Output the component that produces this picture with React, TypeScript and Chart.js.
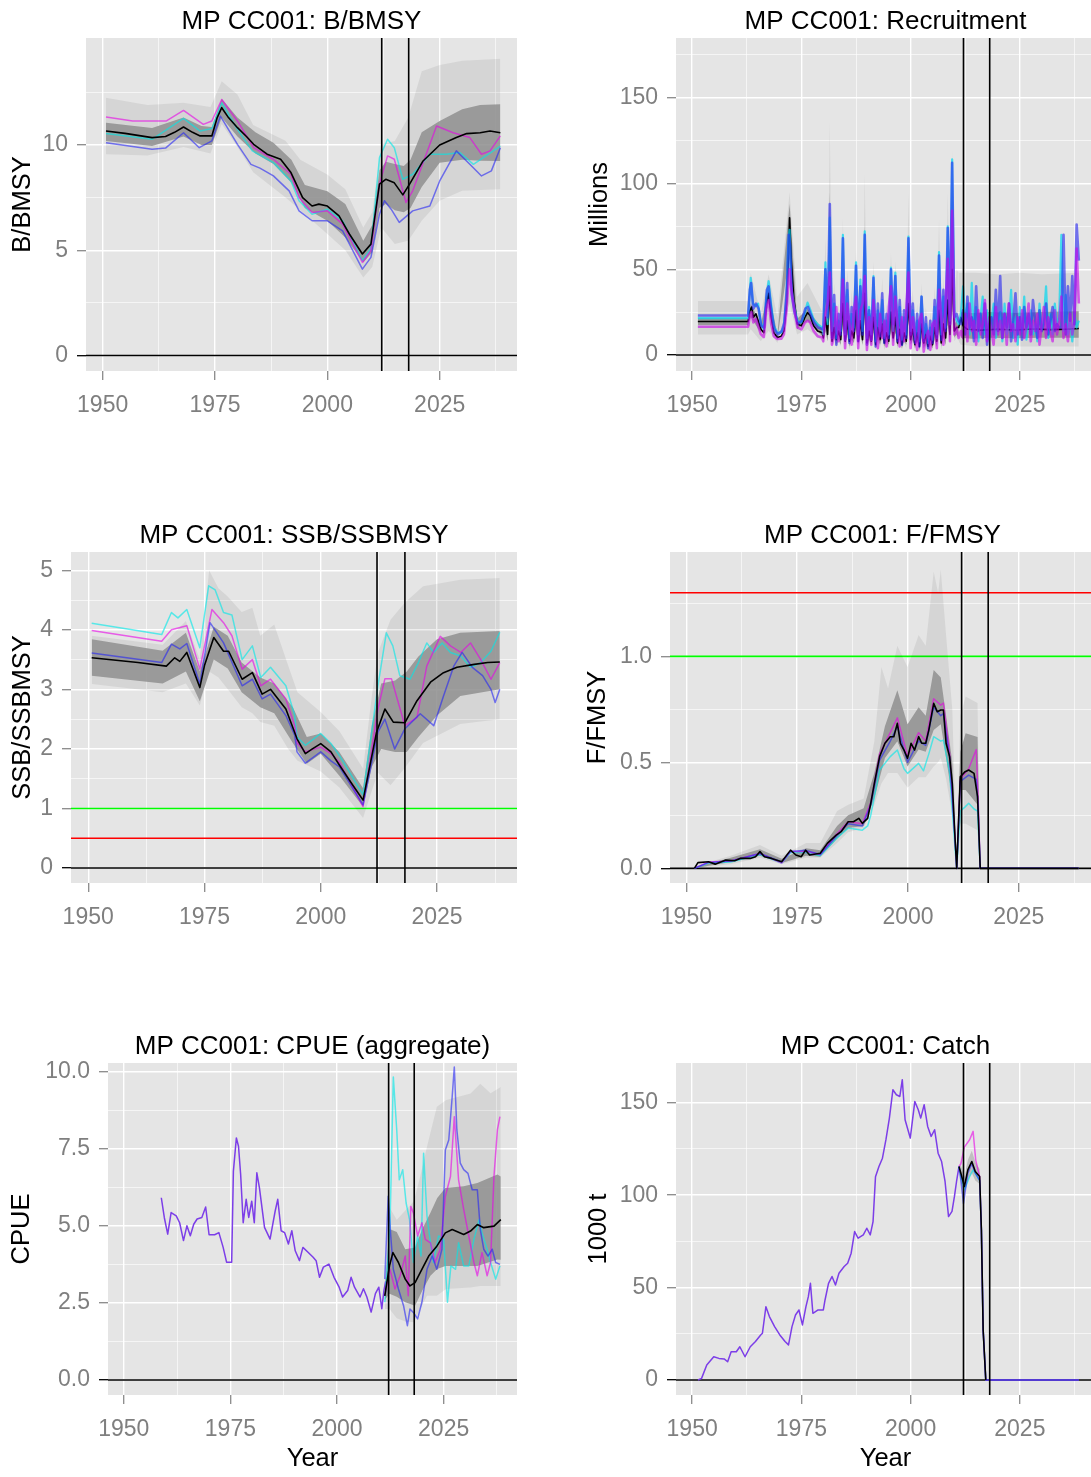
import React, { useEffect, useRef } from "react";
import { Chart, registerables } from "chart.js";

Chart.register(...registerables);

type Pt = [number, number];
type Band = [number, number, number]; // [year, low, high]

const FONT = "'Liberation Sans', Arial, Helvetica, sans-serif";

// ---------- shared year axis ----------
const yearMin = 1946.3;
const yearMax = 2042.2;
const yearMajor = [1950, 1975, 2000, 2025];
const yearMinor = [1962.5, 1987.5, 2012.5, 2037.5];
const projectionMarkers = [2012.1, 2018.1];

// ---------- B/BMSY ----------
const bMedian: Pt[] = [[1950.75,10.66],[1955,10.55],[1961,10.35],[1964,10.4],[1966,10.6],[1968,10.85],[1970,10.6],[1971.7,10.43],[1974.3,10.43],[1975.5,11.3],[1976.5,11.77],[1978,11.3],[1980,10.82],[1982,10.4],[1983.6,10.03],[1986.6,9.56],[1989.6,9.32],[1991.9,8.69],[1994.5,7.5],[1996.6,7.1],[1998.1,7.19],[2000,7.1],[2002.6,6.63],[2004.9,5.77],[2007.8,4.82],[2009.7,5.29],[2011.6,8.14],[2013,8.37],[2014.9,8.2],[2016.8,7.63],[2018.3,8.14],[2021.3,9.24],[2025,10.0],[2028.7,10.35],[2031,10.54],[2034,10.58],[2036.2,10.66],[2038.5,10.58]];
const bInner: Band[] = [[1950.75,10.19,11.06],[1961,9.95,10.8],[1968,10.4,11.3],[1972,10.0,10.9],[1974.3,10.0,10.85],[1976.5,11.3,12.2],[1980,10.4,11.3],[1984,9.6,10.6],[1988,9.1,10.1],[1992,8.2,9.3],[1995,7.0,8.1],[2000,6.4,7.8],[2004,5.6,7.2],[2008,4.42,5.45],[2010,4.9,6.2],[2011.6,7.0,8.8],[2013,7.2,9.2],[2015,6.9,9.1],[2017,6.8,9.0],[2018.5,7.0,9.3],[2021,8.0,10.6],[2025,9.16,11.14],[2030,9.3,11.7],[2034,9.25,11.9],[2038.5,9.24,11.93]];
const bOuter: Band[] = [[1950.75,9.56,12.24],[1960,9.5,11.9],[1968,9.9,12.0],[1974,9.6,11.8],[1976.5,11.0,13.03],[1980,9.9,12.4],[1983.5,8.7,10.95],[1990.7,7.5,10.2],[1994,6.9,9.3],[2000,5.77,8.6],[2004,5.0,7.9],[2008,3.71,6.08],[2010,4.2,6.8],[2012,6.08,10.03],[2015,5.29,10.19],[2018,5.45,11.3],[2021,6.4,13.5],[2025,7.35,13.8],[2030,7.82,14.0],[2038.5,7.9,14.1]];
const bBlue: Pt[] = [[1950.75,10.11],[1961,9.8],[1964,9.85],[1968,10.58],[1971.5,9.87],[1974.3,10.19],[1976.2,11.37],[1980,10.03],[1983,9.08],[1985,8.9],[1988,8.53],[1991.5,7.82],[1993.7,6.87],[1996.6,6.4],[2000,6.4],[2003.4,5.92],[2007.8,4.1],[2009.7,4.66],[2011.6,6.71],[2012.7,7.35],[2014.2,6.95],[2016,6.32],[2019,6.87],[2022.8,7.1],[2025,8.29],[2028.7,9.72],[2031.7,9.08],[2034.3,8.53],[2036.5,8.77],[2038.5,9.87]];
const bMagenta: Pt[] = [[1950.75,11.33],[1956.7,11.14],[1964.2,11.14],[1968,11.64],[1972.4,10.98],[1974.3,11.14],[1976.5,12.16],[1980,11.14],[1983.6,9.87],[1988,9.32],[1991.9,8.61],[1993.7,7.5],[1996.6,6.79],[2000,6.87],[2003.4,6.24],[2007.8,4.42],[2009.7,4.98],[2011.6,8.14],[2013.4,9.48],[2014.9,9.32],[2017.5,7.27],[2019,7.82],[2022,9.56],[2024.3,10.9],[2028,10.58],[2031.7,10.35],[2034.3,9.56],[2036.2,9.72],[2038.5,10.43]];
const bCyan: Pt[] = [[1950.75,10.54],[1961,10.27],[1968,11.26],[1971.7,10.66],[1974.3,10.78],[1976.5,12.0],[1980,10.74],[1983.3,9.72],[1988,9.16],[1991.9,8.29],[1993.7,7.35],[1996.6,6.71],[2000,6.95],[2003.4,6.4],[2007.8,4.5],[2009.7,5.1],[2011.6,9.4],[2013.4,10.27],[2014.9,9.87],[2016.8,8.37],[2019,8.61],[2022.8,9.56],[2026.5,9.56],[2029.5,9.64],[2032.5,9.08],[2034.7,9.4],[2038.5,9.95]];

// ---------- Recruitment (millions) ----------
const recBlueEarly: Pt[] = [[1951.3,23],[1962.8,23],[1963.2,38],[1963.5,42],[1964,27],[1964.6,30],[1965.2,27],[1965.8,17],[1966.5,16],[1967.1,38],[1967.5,40],[1968.2,24],[1968.8,15],[1969.6,12],[1970.5,14],[1971.1,19],[1971.7,40],[1972.1,70],[1972.4,64],[1972.8,35],[1973.4,25],[1974.2,18],[1975.1,20],[1975.9,27],[1976.5,28],[1977.1,24],[1977.9,19],[1978.8,16],[1979.9,15]];
const recCyanEarly: Pt[] = [[1951.3,21.5],[1962.8,21.5],[1963.1,34],[1963.4,45],[1963.9,30],[1964.5,28.5],[1965.1,30],[1965.7,19],[1966.4,15],[1967,34],[1967.5,43],[1968.1,29],[1968.7,17],[1969.5,13],[1970.4,13],[1971,17],[1971.6,34],[1972,66],[1972.3,73],[1972.7,40],[1973.3,28.5],[1974.1,20],[1975,19],[1975.8,24.7],[1976.4,30.5],[1977,26.6],[1977.8,20.8],[1978.7,18],[1979.8,16]];
const recMagentaEarly: Pt[] = [[1951.3,16.5],[1962.8,16.5],[1963.2,22.8],[1963.6,25],[1964,19],[1964.6,21],[1965.7,12.2],[1966.4,10.5],[1967,27],[1967.5,32],[1968.1,18],[1968.7,11],[1969.5,9.3],[1970.4,9.5],[1971,12],[1971.6,26],[1972.1,45],[1972.3,50],[1972.7,38],[1973.3,28],[1974.1,16],[1975,15],[1975.8,18.9],[1976.4,20],[1977,19],[1977.8,14],[1978.7,11],[1979.8,10.2]];
const recBlackEarly: Pt[] = [[1951.3,19.5],[1962.8,19.5],[1963.2,25.7],[1963.6,28],[1964,22],[1964.6,24],[1965.7,15.2],[1966.4,13],[1967,30],[1967.5,36],[1968.1,22],[1968.7,13],[1969.5,10.2],[1970.4,11],[1971,14],[1971.6,30],[1972.1,62],[1972.3,80],[1972.7,55],[1973.3,32],[1974.1,18],[1975,17],[1975.8,22],[1976.4,24.7],[1977,23],[1977.8,17],[1978.7,14],[1979.8,13]];
// half-yearly estimates 1980.0 - 2011.0
const recMidStart = 1980;
const recBlueMid = [15,50,22,88,10,35,6,24,12,68, 9,42,7,28,14,52,8,40,12,70, 6,26,9,45,5,30,11,36,7,24, 10,50,18,46,8,32,6,26,10,68, 12,30,7,24,5,34,8,22,4,20, 7,32,10,58,9,38,14,74,18,112, 22,24,20];
const recMagentaMid = [8,24,30,48,6,12,28,8,20,44, 4,30,18,6,26,34,4,26,30,46, 3,22,6,32,16,4,24,10,20,5, 28,40,6,34,18,5,22,8,26,48, 4,22,12,3,20,24,2,10,14,3, 18,20,4,38,22,6,30,56,8,84, 12,16,10];
const recCyanMid = [12,54,18,80,14,30,10,20,14,70, 12,38,10,24,16,54,12,44,14,72, 10,28,12,46,8,26,14,32,10,20, 12,51,14,48,10,28,9,22,12,69, 14,26,9,20,8,34,10,18,7,16, 9,28,12,60,12,34,16,75,20,114, 24,20,18];
const recBlackMid = [10,22,12,40,8,16,9,14,9,30, 8,20,8,14,10,26,8,20,9,36, 7,14,8,22,6,16,9,18,7,13, 8,25,10,22,7,15,6,13,8,30, 9,15,6,13,5,18,7,12,5,11, 6,16,8,26,7,18,10,32,12,50, 14,16,16];
const recInnerHiMid = [12,36,16,95,9,24,10,18,11,50, 10,30,9,20,12,42,10,32,11,75, 9,20,10,34,8,22,11,28,9,18, 10,40,14,36,9,22,8,18,10,68, 11,22,8,18,6,28,9,16,6,14, 8,24,10,45,9,28,12,60,15,103, 18,20,16];
const recInnerLoMid = [7,14,8,25,6,10,6,9,6,18, 6,12,5,9,7,15,6,12,6,22, 5,9,6,13,4,9,6,11,5,8, 6,14,7,13,5,9,4,8,6,20, 6,9,4,8,3,10,4,7,3,6, 4,9,5,15,5,10,6,18,8,30, 10,12,10];
const recOuterHiMid = [22,68,28,137,18,42,15,30,18,80, 16,50,14,38,20,62,16,50,18,106, 14,34,16,55,12,36,18,45,14,30, 16,60,24,55,14,40,12,33,16,95, 18,38,12,30,10,42,14,28,10,25, 12,40,16,80,14,46,20,95,25,120, 30,50,48];
const recOuterLoMid = [6,18,8,40,4,10,4,8,5,25, 4,12,3,8,5,18,4,12,5,35, 3,8,4,14,3,8,4,10,3,7, 4,15,6,14,3,8,3,7,4,28, 5,8,3,7,2,10,3,6,2,5, 3,9,4,18,3,10,5,24,6,40, 8,10,8];
// half-yearly projections 2011.5 - 2038.5
const recProjStart = 2011.5;
const recCyanProj = [24,40,18,30,12,42,10,28,8,22, 34,12,26,9,20,30,10,16,25,8, 30,12,18,38,10,22,6,28,14,34, 9,20,26,12,18,8,30,15,22,40, 10,24,12,30,18,22,70,14,35,12, 20,8,24,16,20];
const recMagentaProj = [14,10,24,8,30,14,20,6,26,12, 18,32,8,22,14,6,28,12,20,10, 24,6,30,14,18,8,22,12,26,10, 16,30,8,20,14,24,6,18,28,10, 22,14,8,26,12,20,34,10,18,8, 24,12,20,62,30];
const recBlueProj = [18,26,12,34,16,22,8,40,14,24, 10,30,6,18,22,12,38,14,46,10, 24,16,30,8,20,36,12,22,9,28, 16,24,12,32,20,10,26,14,18,30, 12,20,28,14,18,16,16,70,12,40, 20,46,18,76,55];
const recBlackProj: Pt[] = [[2011.0,16],[2011.5,22],[2012,17],[2013,15],[2016,14.5],[2020,15],[2024,14.6],[2028,15.2],[2032,14.8],[2036,15.1],[2038.5,15.5]];
const recOuterEarly: Band[] = [[1951.3,12,31.5],[1962.8,12,31.5],[1963.4,15,48],[1965.7,8,24],[1967.5,14,47],[1969.5,7,22],[1972.3,30,95],[1974,12,34],[1976.4,15,42],[1979.8,8,25]];
const recOuterProj: Band[] = [[2011.0,8,48],[2011.5,6,48],[2015,5,48],[2020,5,47],[2025,5,48],[2030,5,47],[2038.5,5,48]];
const recInnerEarly: Band[] = [[1951.3,17.5,21.5],[1962.8,17.5,21.5],[1963.4,22,30],[1965.7,13,18],[1967.5,30,38],[1969.5,9,12],[1972.3,60,88],[1974,15,21],[1976.4,20,27],[1979.8,11,15]];
const recInnerProj: Band[] = [[2011.5,10,25],[2014,9.5,24.5],[2018,10,25],[2024,9.8,24.6],[2030,10,25],[2038.5,10,25.5]];

// ---------- SSB/SSBMSY ----------
const ssbMedian: Pt[] = [[1950.75,3.53],[1960.7,3.45],[1966.8,3.39],[1968.6,3.53],[1969.7,3.47],[1971.2,3.62],[1974,3.03],[1975,3.4],[1977,3.87],[1979.1,3.64],[1980.2,3.64],[1983.1,3.17],[1985.3,3.28],[1987.4,2.92],[1989.2,3.0],[1992.5,2.67],[1994.9,2.17],[1996.7,1.92],[1998.2,2.0],[2000,2.09],[2002.2,1.95],[2004,1.73],[2006.9,1.39],[2009.1,1.14],[2012,2.28],[2013.8,2.67],[2015.6,2.45],[2018.1,2.44],[2020.7,2.81],[2023.6,3.12],[2026.4,3.28],[2029.3,3.37],[2033,3.42],[2035.9,3.45],[2038.5,3.46]];
const ssbInner: Band[] = [[1950.75,3.23,3.84],[1966,3.1,3.65],[1971,3.3,3.95],[1974,2.8,3.3],[1977,3.5,4.05],[1980,3.35,3.9],[1983,2.95,3.45],[1987,2.7,3.2],[1990,2.6,3.1],[1994,2.1,2.7],[1997,1.75,2.2],[2000,1.92,2.26],[2004,1.55,1.95],[2009.1,1.03,1.34],[2011,1.7,2.4],[2013,2.0,3.1],[2016,1.95,3.15],[2018.5,1.95,3.3],[2021,2.2,3.55],[2025,2.56,3.84],[2030,2.89,3.95],[2038.5,3.0,3.98]];
const ssbOuter: Band[] = [[1950.75,3.09,3.9],[1966,2.95,3.75],[1971,3.1,4.15],[1974,2.73,3.5],[1976,3.3,5.0],[1978,3.2,4.7],[1980,3.0,4.56],[1983,2.7,4.3],[1985.3,2.6,4.37],[1987,2.45,3.9],[1990,2.39,4.09],[1993,2.0,3.4],[1995,1.8,2.95],[2000,1.62,2.62],[2004,1.35,2.3],[2009.1,0.84,1.67],[2011,1.3,2.9],[2012.3,1.6,3.62],[2015,1.39,4.17],[2018,1.67,4.45],[2022,2.1,4.73],[2030,2.42,4.84],[2038.5,2.5,4.87]];
const ssbCyan: Pt[] = [[1950.75,4.11],[1965.8,3.92],[1967.9,4.29],[1969.3,4.2],[1971.2,4.34],[1974,3.7],[1975.9,4.74],[1977.3,4.67],[1979.1,4.29],[1980.9,4.25],[1983.1,3.5],[1985.3,3.73],[1987.1,3.2],[1989.2,3.37],[1992.5,3.06],[1994.4,2.56],[1994.9,2.2],[1996.7,2.06],[1998.5,2.17],[2000,2.26],[2002.2,2.09],[2004,1.89],[2009.1,1.23],[2012.3,3.06],[2014.1,3.95],[2015.5,3.73],[2017,3.23],[2019.2,3.17],[2021,3.45],[2022.8,3.78],[2024.3,3.62],[2026.1,3.78],[2027.9,3.62],[2030.1,3.56],[2032.2,3.37],[2034.4,3.45],[2036.6,3.64],[2038.5,3.96]];
const ssbMagenta: Pt[] = [[1950.75,3.99],[1965.8,3.81],[1967.9,4.0],[1971.2,4.07],[1974,3.34],[1976.6,4.34],[1979.1,4.12],[1980.9,3.9],[1983.1,3.34],[1985.3,3.5],[1987.1,3.06],[1989.2,3.17],[1992.5,2.84],[1994.4,2.39],[1994.9,2.1],[1996.7,1.95],[2000,2.03],[2002.2,1.92],[2004,1.78],[2009.1,1.03],[2012.3,2.67],[2013.8,3.18],[2015.2,3.18],[2018.1,2.39],[2020.7,2.53],[2022.8,3.39],[2025.7,3.89],[2027.9,3.73],[2030.1,3.62],[2032.2,3.78],[2034.4,3.5],[2036.6,3.17],[2038.5,3.45]];
const ssbBlue: Pt[] = [[1950.75,3.61],[1965.8,3.45],[1967.9,3.76],[1969.7,3.68],[1971.2,3.77],[1974,3.09],[1976.2,4.12],[1979.1,3.78],[1983.1,3.06],[1985.3,3.17],[1987.4,2.84],[1989.2,2.92],[1992.5,2.56],[1994.4,2.23],[1994.9,1.95],[1996.7,1.76],[2000,1.95],[2002.2,1.8],[2004,1.7],[2009.1,1.06],[2012.3,2.28],[2013.8,2.5],[2015.9,2.0],[2018.1,2.34],[2021.4,2.59],[2024.3,2.39],[2026.4,2.89],[2028.6,3.39],[2030.4,3.62],[2032.6,3.37],[2034.8,3.23],[2036.6,3.0],[2037.5,2.78],[2038.5,3.0]];

// ---------- F/FMSY ----------
const fMedian: Pt[] = [[1951.8,0],[1952.6,0.027],[1955,0.031],[1956.5,0.02],[1958.9,0.039],[1960.9,0.036],[1962.1,0.047],[1964.4,0.047],[1965.6,0.055],[1966.6,0.079],[1967.6,0.055],[1969.2,0.047],[1971.5,0.031],[1973.5,0.086],[1974.7,0.063],[1975.9,0.055],[1976.9,0.086],[1977.8,0.063],[1980.2,0.071],[1981.8,0.118],[1983.8,0.157],[1984.9,0.173],[1986.5,0.22],[1987.7,0.22],[1988.9,0.236],[1989.7,0.212],[1990.9,0.236],[1991.6,0.307],[1992.4,0.4],[1993.6,0.527],[1994.8,0.59],[1996,0.621],[1996.8,0.621],[1997.6,0.684],[1998.3,0.59],[1999.1,0.558],[1999.9,0.519],[2000.7,0.59],[2001.5,0.558],[2002.4,0.621],[2003.1,0.59],[2004,0.59],[2004.7,0.652],[2005.8,0.778],[2006.6,0.739],[2007.4,0.747],[2008,0.747],[2008.6,0.59],[2009.4,0.527],[2010,0.4],[2010.6,0.149],[2011,0],[2011.8,0.432],[2012.9,0.456],[2013.7,0.464],[2014.9,0.448],[2015.7,0.338],[2016.3,0],[2038.5,0]];
const fMagenta: Pt[] = [[1951.8,0],[1955,0.03],[1960,0.035],[1966.6,0.07],[1971.5,0.025],[1973.5,0.08],[1977,0.08],[1980.2,0.065],[1983.8,0.16],[1986.5,0.22],[1989.7,0.21],[1991.6,0.31],[1993.6,0.54],[1996,0.64],[1997.6,0.71],[1999.9,0.53],[2002.4,0.64],[2004,0.6],[2005.8,0.8],[2007.4,0.77],[2008,0.78],[2009.4,0.54],[2010.6,0.15],[2011,0],[2011.8,0.42],[2013.7,0.47],[2015.4,0.56],[2015.8,0.35],[2016.3,0],[2038.5,0]];
const fBlue: Pt[] = [[1951.8,0],[1955,0.028],[1960,0.035],[1966.6,0.07],[1971.5,0.03],[1973.5,0.08],[1977,0.085],[1980.2,0.065],[1983.8,0.15],[1986.5,0.21],[1989.7,0.2],[1991.6,0.3],[1993.6,0.51],[1996,0.6],[1997.6,0.67],[1999.9,0.5],[2002.4,0.6],[2004,0.58],[2005.8,0.76],[2007.4,0.72],[2008,0.73],[2009.4,0.52],[2010.6,0.14],[2011,0],[2011.8,0.41],[2013.7,0.44],[2015.4,0.42],[2015.8,0.3],[2016.3,0],[2038.5,0]];
const fCyan: Pt[] = [[1951.8,0],[1955,0.025],[1960,0.03],[1966.6,0.065],[1971.5,0.025],[1973.5,0.075],[1977,0.075],[1980.2,0.06],[1983.8,0.14],[1986.5,0.19],[1989.7,0.18],[1990.9,0.2],[1991.6,0.25],[1993.6,0.464],[1996,0.527],[1997.6,0.558],[1999.1,0.47],[1999.9,0.448],[2002.4,0.495],[2003.5,0.46],[2004.7,0.54],[2005.8,0.621],[2007.4,0.6],[2008,0.605],[2009.4,0.45],[2010.6,0.1],[2011,0],[2011.8,0.27],[2012.9,0.29],[2013.7,0.307],[2014.9,0.28],[2015.7,0.27],[2016.3,0],[2038.5,0]];
const fInner: Band[] = [[1951.8,0,0.005],[1960,0.03,0.05],[1966.6,0.06,0.09],[1971.5,0.025,0.045],[1977,0.06,0.095],[1980.2,0.055,0.085],[1984,0.14,0.2],[1986.5,0.19,0.25],[1990,0.2,0.283],[1992.4,0.33,0.45],[1994.8,0.52,0.67],[1997.6,0.6,0.84],[1999.9,0.48,0.68],[2002.4,0.56,0.76],[2004,0.55,0.72],[2005.8,0.652,0.936],[2007.4,0.68,0.9],[2008.6,0.52,0.72],[2010,0.33,0.5],[2011,0,0.02],[2011.8,0.37,0.55],[2013,0.37,0.637],[2015.7,0.3,0.62],[2016.3,0,0]];
const fOuter: Band[] = [[1951.8,0,0.01],[1960,0.02,0.06],[1966.6,0.05,0.11],[1971.5,0.02,0.06],[1977,0.05,0.12],[1980.2,0.05,0.12],[1984,0.12,0.27],[1986.5,0.17,0.3],[1990,0.19,0.33],[1992.4,0.3,0.6],[1994,0.4,0.95],[1995.5,0.45,0.85],[1997.6,0.45,1.05],[1999.9,0.38,0.95],[2002.4,0.43,1.1],[2004,0.43,1.05],[2005.8,0.48,1.4],[2006.8,0.5,1.3],[2007.4,0.52,1.41],[2008.6,0.42,1.1],[2010,0.25,0.75],[2011,0,0.05],[2011.8,0.21,0.72],[2013,0.21,0.81],[2015.7,0.18,0.78],[2016.3,0,0]];

// ---------- CPUE (aggregate) ----------
const cpueObserved: Pt[] = [[1958.8,5.91],[1959.5,5.27],[1960.3,4.73],[1961.1,5.43],[1962.3,5.32],[1963.1,5.1],[1964,4.52],[1964.8,5.0],[1965.6,4.68],[1966.4,5.05],[1967.2,5.22],[1968.3,5.27],[1969.2,5.61],[1970,4.71],[1971.3,4.71],[1972.3,4.78],[1973.3,4.3],[1974.1,3.82],[1975.3,3.82],[1975.7,6.77],[1976.4,7.85],[1976.9,7.58],[1977.4,6.67],[1978,5.1],[1978.7,5.86],[1979.3,5.27],[1980,5.8],[1980.6,5.1],[1981.2,6.72],[1981.8,6.24],[1983,4.95],[1984.3,4.57],[1985.5,5.48],[1986.1,5.86],[1986.9,4.84],[1987.7,4.78],[1988.6,4.41],[1989.4,4.84],[1990.2,4.19],[1991.2,3.87],[1992,4.3],[1993.2,4.14],[1994.4,3.98],[1995.1,3.87],[1995.9,3.33],[1996.8,3.66],[1998.1,3.76],[1999.3,3.33],[2000.5,3.01],[2001.3,2.69],[2002.5,2.9],[2003.3,3.33],[2004.1,3.01],[2005.4,2.69],[2006.2,2.96],[2007,2.69],[2008,2.2],[2009,2.8],[2009.8,3.01],[2010.5,2.31],[2011,2.9],[2011.4,3.2]];
const cpueMedian: Pt[] = [[2011.2,2.73],[2012.3,3.7],[2013.1,4.13],[2014.4,3.81],[2016,3.27],[2017.1,3.05],[2018.3,3.16],[2019.5,3.48],[2021.5,4.02],[2023.4,4.34],[2025.4,4.77],[2027,4.88],[2029.7,4.72],[2031.3,4.83],[2032.9,5.04],[2034.4,4.94],[2036.8,4.99],[2038.4,5.2]];
const cpueInner: Band[] = [[2011.2,2.6,2.9],[2012.3,2.8,4.9],[2014,2.7,4.8],[2016,2.52,4.24],[2018.3,2.41,4.3],[2020,2.9,4.9],[2021.9,3.38,5.42],[2023.5,3.6,5.9],[2025.4,3.7,6.23],[2029.7,3.7,6.28],[2032.9,3.7,6.39],[2037.6,3.91,6.66],[2038.4,3.9,6.6]];
const cpueOuter: Band[] = [[2011.2,2.3,3.2],[2012.3,2.3,5.6],[2014,2.0,5.2],[2016,1.9,5.5],[2018,1.87,5.8],[2019.5,2.3,6.6],[2021.1,2.73,7.57],[2023.4,2.73,8.86],[2025.6,2.95,9.08],[2031.3,3.0,9.29],[2033.6,3.05,9.61],[2036,3.05,9.3],[2038.4,3.05,9.5]];
const cpueCyan: Pt[] = [[2011.2,2.52],[2012.4,4.88],[2013.2,9.83],[2014,8.11],[2014.6,6.49],[2015.4,6.82],[2016.2,5.74],[2017,5.2],[2017.9,3.81],[2018.9,4.67],[2019.7,4.02],[2020.3,7.35],[2021.1,5.31],[2021.7,4.67],[2022.6,3.81],[2023.8,4.67],[2025,4.56],[2025.9,2.52],[2026.7,3.7],[2027.8,3.59],[2028.5,4.45],[2029.7,3.7],[2030.9,3.7],[2032.1,4.56],[2033.3,5.2],[2034,4.77],[2035.2,4.24],[2036,3.81],[2037.2,3.27],[2038.2,3.7]];
const cpueBlue: Pt[] = [[2011.2,3.27],[2012,5.96],[2012.6,4.67],[2013.2,3.59],[2014.4,2.95],[2015.6,2.41],[2016.5,1.76],[2017.1,2.3],[2017.9,2.19],[2018.9,1.98],[2019.9,2.52],[2021.1,3.59],[2022.3,4.02],[2023.4,3.59],[2024.6,4.24],[2025.4,7.46],[2026.2,7.78],[2027,9.18],[2027.5,10.15],[2028.1,8.11],[2028.9,7.03],[2029.7,6.82],[2030.7,6.7],[2031.7,6.17],[2032.9,6.17],[2033.6,4.88],[2034.4,4.24],[2035.4,4.02],[2036.4,4.24],[2037.2,3.81],[2038.2,3.75]];
const cpueMagenta: Pt[] = [[2011.2,2.73],[2012.4,3.59],[2013.6,2.95],[2014.8,3.38],[2016,4.02],[2016.7,2.73],[2017.3,5.63],[2017.9,5.42],[2018.9,4.67],[2019.9,5.1],[2020.7,4.56],[2021.9,4.45],[2023,3.81],[2024.2,4.24],[2025.4,5.96],[2026.6,6.6],[2027.5,8.54],[2028.5,6.49],[2029.7,5.53],[2030.9,4.67],[2032.1,3.81],[2032.9,3.38],[2034,4.13],[2035.2,3.38],[2036,3.81],[2036.8,6.6],[2037.6,8.11],[2038.2,8.54]];

// ---------- Catch (1000 t) ----------
const catchObserved: Pt[] = [[1951.35,0],[1952.15,0.9],[1953.34,8.1],[1954.94,12.6],[1956.13,11.7],[1957.32,11.4],[1958.12,9.9],[1958.92,15.3],[1960.11,15.3],[1960.91,18],[1962.1,12.6],[1963.3,18],[1964.49,20.8],[1965.68,24.4],[1966.08,25.3],[1966.88,39.7],[1967.68,34.3],[1968.87,28.9],[1970.06,24.4],[1971.26,20.8],[1972.05,19],[1972.85,28.9],[1973.65,35.2],[1974.44,37.9],[1975.24,29.8],[1976.04,39.7],[1976.59,45.1],[1977.07,52.3],[1977.63,36.1],[1978.82,37.9],[1980.02,37.9],[1980.41,43.3],[1981.21,52.3],[1982.01,56],[1982.8,51.4],[1983.6,57.8],[1984.79,61.4],[1985.59,63.2],[1986.39,68.6],[1987.18,80.3],[1987.98,76.7],[1989.17,78.5],[1989.97,82.1],[1990.76,78.5],[1991.4,85.7],[1991.96,110],[1992.75,115.5],[1993.55,120],[1994.35,130],[1995.14,141.7],[1995.94,157],[1996.74,154.3],[1997.53,153.4],[1998.09,162.5],[1998.73,140.8],[1999.92,130.9],[2000.96,150.7],[2001.75,146.2],[2002.31,141.7],[2003.1,148.9],[2003.9,137.2],[2004.7,131.8],[2005.49,135.4],[2006.29,122.7],[2007.09,118.2],[2007.88,107.4],[2008.68,88.4],[2009.47,91.2],[2010.03,99.3],[2010.51,107.4],[2011.07,115.5]];
const catchMedian: Pt[] = [[2011.07,115.5],[2011.5,111.9],[2012.3,104.7],[2013.1,113.7],[2014,118.2],[2014.8,112.8],[2015.8,110.1],[2016.2,81.2],[2016.6,27.1],[2017.2,0]];
const catchInner: Band[] = [[2011.07,115.5,115.5],[2011.5,107,116],[2012.3,100,110],[2013.1,108,119],[2014,112,124],[2014.8,108,118],[2015.8,106,114],[2016.2,80,83]];
const catchMagenta: Pt[] = [[2011.07,115.5],[2011.5,117],[2012.3,126],[2013.5,130],[2014.3,134.5],[2014.9,119],[2015.8,110],[2016.2,81.2],[2016.6,27.1],[2017.2,0],[2038.5,0]];
const catchCyan: Pt[] = [[2011.07,115.5],[2011.5,110],[2012.3,102.8],[2013.5,110],[2014.3,113.7],[2015,111],[2015.8,108],[2016.2,81.2],[2016.6,27.1],[2017.2,0],[2038.5,0]];
const catchBlue: Pt[] = [[2011.07,115.5],[2011.5,108],[2012.1,95.6],[2013.1,112],[2014,117],[2014.8,112],[2015.8,108],[2016.2,81.2],[2016.6,27.1],[2017.2,0],[2038.5,0]];

// ---------- colours ----------
const C_OUTER = "rgba(0,0,0,0.065)";
const C_INNER = "rgba(140,140,140,0.82)";
const C_CYAN = "rgba(0,232,232,0.62)";
const C_MAGENTA = "rgba(232,0,232,0.6)";
const C_BLUE = "rgba(36,36,245,0.6)";
const C_PURPLE = "rgb(124,62,232)";
const C_BLACK = "#000000";

const halfYearly = (start: number, values: number[]): Pt[] =>
  values.map((v, i) => [start + i * 0.5, v] as Pt);
const halfYearlyBand = (start: number, lo: number[], hi: number[]): Band[] =>
  lo.map((v, i) => [start + i * 0.5, v, hi[i]] as Band);

interface LineSpec { pts: Pt[]; color: string; width: number; order: number }
interface BandSpec { pts: Band[]; color: string; order: number }
interface RefLine { value: number; color: string }
interface PanelSpec {
  id: string;
  title: string;
  yTitle: string;
  xTitle: string;
  box: { x: number; y: number; w: number; h: number };
  area: { l: number; t: number; b: number };
  yTitleX: number;
  yMin: number;
  yMax: number;
  yMajor: number[];
  yMinor: number[];
  yDigits: number;
  bands: BandSpec[];
  lines: LineSpec[];
  hlines: RefLine[];
}

const simLines = (cyan: Pt[], magenta: Pt[], blue: Pt[], median: Pt[]): LineSpec[] => [
  { pts: cyan, color: C_CYAN, width: 1.5, order: 4 },
  { pts: magenta, color: C_MAGENTA, width: 1.5, order: 3 },
  { pts: blue, color: C_BLUE, width: 1.5, order: 2 },
  { pts: median, color: C_BLACK, width: 1.6, order: 1 },
];

const zeroLine: RefLine = { value: 0, color: "#000000" };

const panels: PanelSpec[] = [
  {
    id: "bbmsy", title: "MP CC001: B/BMSY", yTitle: "B/BMSY", xTitle: "",
    box: { x: 0, y: 0, w: 517, h: 430 }, area: { l: 86, t: 38, b: 371 }, yTitleX: 22.6,
    yMin: -0.736, yMax: 15.08, yMajor: [0, 5, 10], yMinor: [2.5, 7.5, 12.5], yDigits: 0,
    bands: [{ pts: bOuter, color: C_OUTER, order: 8 }, { pts: bInner, color: C_INNER, order: 6 }],
    lines: simLines(bCyan, bMagenta, bBlue, bMedian),
    hlines: [zeroLine],
  },
  {
    id: "rec", title: "MP CC001: Recruitment", yTitle: "Millions", xTitle: "",
    box: { x: 580, y: 0, w: 515, h: 430 }, area: { l: 676, t: 38, b: 371 }, yTitleX: 600,
    yMin: -9.3, yMax: 184.7, yMajor: [0, 50, 100, 150], yMinor: [25, 75, 125, 175], yDigits: 0,
    bands: [
      { pts: recOuterEarly, color: C_OUTER, order: 10 },
      { pts: halfYearlyBand(recMidStart, recOuterLoMid, recOuterHiMid), color: C_OUTER, order: 10 },
      { pts: recOuterProj, color: C_OUTER, order: 10 },
      { pts: recInnerEarly, color: C_INNER, order: 8 },
      { pts: halfYearlyBand(recMidStart, recInnerLoMid, recInnerHiMid), color: C_INNER, order: 8 },
      { pts: recInnerProj, color: C_INNER, order: 8 },
    ],
    lines: [
      { pts: [...recBlackEarly, ...halfYearly(recMidStart, recBlackMid), ...recBlackProj], color: C_BLACK, width: 1.6, order: 5 },
      { pts: [...recCyanEarly, ...halfYearly(recMidStart, recCyanMid), ...halfYearly(recProjStart, recCyanProj)], color: "rgba(0,215,240,0.7)", width: 2.2, order: 4 },
      { pts: [...recBlueEarly, ...halfYearly(recMidStart, recBlueMid), ...halfYearly(recProjStart, recBlueProj)], color: "rgba(40,40,240,0.62)", width: 2.6, order: 3 },
      { pts: [...recMagentaEarly, ...halfYearly(recMidStart, recMagentaMid), ...halfYearly(recProjStart, recMagentaProj)], color: "rgba(200,0,235,0.6)", width: 2.6, order: 2 },
    ],
    hlines: [zeroLine],
  },
  {
    id: "ssb", title: "MP CC001: SSB/SSBMSY", yTitle: "SSB/SSBMSY", xTitle: "",
    box: { x: 0, y: 510, w: 517, h: 430 }, area: { l: 71, t: 552, b: 883 }, yTitleX: 22.6,
    yMin: -0.252, yMax: 5.307, yMajor: [0, 1, 2, 3, 4, 5], yMinor: [0.5, 1.5, 2.5, 3.5, 4.5], yDigits: 0,
    bands: [{ pts: ssbOuter, color: C_OUTER, order: 8 }, { pts: ssbInner, color: C_INNER, order: 6 }],
    lines: simLines(ssbCyan, ssbMagenta, ssbBlue, ssbMedian),
    hlines: [{ value: 1, color: "#00FF00" }, { value: 0.5, color: "#FF0000" }, zeroLine],
  },
  {
    id: "ffmsy", title: "MP CC001: F/FMSY", yTitle: "F/FMSY", xTitle: "",
    box: { x: 580, y: 510, w: 515, h: 430 }, area: { l: 670, t: 552, b: 883 }, yTitleX: 598,
    yMin: -0.069, yMax: 1.492, yMajor: [0, 0.5, 1.0], yMinor: [0.25, 0.75, 1.25], yDigits: 1,
    bands: [{ pts: fOuter, color: C_OUTER, order: 8 }, { pts: fInner, color: C_INNER, order: 6 }],
    lines: simLines(fCyan, fMagenta, fBlue, fMedian),
    hlines: [{ value: 1.3, color: "#FF0000" }, { value: 1, color: "#00FF00" }, zeroLine],
  },
  {
    id: "cpue", title: "MP CC001: CPUE (aggregate)", yTitle: "CPUE", xTitle: "Year",
    box: { x: 0, y: 1020, w: 517, h: 457 }, area: { l: 108, t: 1063, b: 1395 }, yTitleX: 21.7,
    yMin: -0.487, yMax: 10.28, yMajor: [0, 2.5, 5, 7.5, 10], yMinor: [1.25, 3.75, 6.25, 8.75], yDigits: 1,
    bands: [{ pts: cpueOuter, color: C_OUTER, order: 8 }, { pts: cpueInner, color: C_INNER, order: 6 }],
    lines: [
      { pts: cpueObserved, color: C_PURPLE, width: 1.5, order: 5 },
      ...simLines(cpueCyan, cpueMagenta, cpueBlue, cpueMedian),
    ],
    hlines: [zeroLine],
  },
  {
    id: "catch", title: "MP CC001: Catch", yTitle: "1000 t", xTitle: "Year",
    box: { x: 580, y: 1020, w: 515, h: 457 }, area: { l: 676, t: 1063, b: 1395 }, yTitleX: 599,
    yMin: -8.1, yMax: 171.5, yMajor: [0, 50, 100, 150], yMinor: [25, 75, 125], yDigits: 0,
    bands: [{ pts: catchInner, color: "rgba(120,120,120,0.35)", order: 6 }],
    lines: [
      { pts: catchObserved, color: C_PURPLE, width: 1.5, order: 5 },
      ...simLines(catchCyan, catchMagenta, catchBlue, catchMedian),
    ],
    hlines: [zeroLine],
  },
];

const near = (a: number, list: number[]) => list.some((v) => Math.abs(v - a) < 1e-6);

function buildChart(canvas: HTMLCanvasElement, p: PanelSpec): Chart {
  const datasets: any[] = [];
  p.bands.forEach((b) => {
    datasets.push({
      data: b.pts.map((d) => ({ x: d[0], y: d[2] })),
      fill: "+1", backgroundColor: b.color, borderColor: "rgba(0,0,0,0)", borderWidth: 0,
      pointRadius: 0, tension: 0, order: b.order,
    });
    datasets.push({
      data: b.pts.map((d) => ({ x: d[0], y: d[1] })),
      fill: false, borderColor: "rgba(0,0,0,0)", borderWidth: 0,
      pointRadius: 0, tension: 0, order: b.order + 1,
    });
  });
  p.lines.forEach((l) => {
    datasets.push({
      data: l.pts.map((d) => ({ x: d[0], y: d[1] })),
      fill: false, borderColor: l.color, borderWidth: l.width,
      pointRadius: 0, tension: 0, order: l.order, borderJoinStyle: "round",
    });
  });

  const yAll = [...p.yMajor, ...p.yMinor].sort((a, b) => a - b);
  const xAll = [...yearMajor, ...yearMinor].sort((a, b) => a - b);
  const tickFont = { family: FONT, size: 23 };
  const titleFont = { family: FONT, size: 25.5 };

  const backdrop = {
    id: "panelBackdrop",
    beforeDraw(chart: any) {
      const { ctx, chartArea: a } = chart;
      ctx.save();
      ctx.fillStyle = "#E5E5E5";
      ctx.fillRect(a.left, a.top, a.right - a.left, a.bottom - a.top);
      ctx.restore();
    },
  };
  const clipToArea = (ctx: CanvasRenderingContext2D, a: any) => {
    ctx.beginPath();
    ctx.rect(a.left, a.top, a.right - a.left, a.bottom - a.top);
    ctx.clip();
  };
  // horizontal reference levels sit beneath the simulated series
  const refLevels = {
    id: "refLevels",
    beforeDatasetsDraw(chart: any) {
      const { ctx, chartArea: a, scales } = chart;
      ctx.save();
      clipToArea(ctx, a);
      ctx.lineWidth = 1.6;
      p.hlines.forEach((h) => {
        const py = scales.y.getPixelForValue(h.value);
        ctx.strokeStyle = h.color;
        ctx.beginPath();
        ctx.moveTo(a.left, py);
        ctx.lineTo(a.right, py);
        ctx.stroke();
      });
      ctx.restore();
    },
  };
  // start / end of the projection window, drawn over everything
  const projectionWindow = {
    id: "projectionWindow",
    afterDatasetsDraw(chart: any) {
      const { ctx, chartArea: a, scales } = chart;
      ctx.save();
      clipToArea(ctx, a);
      ctx.lineWidth = 1.6;
      ctx.strokeStyle = "#000000";
      projectionMarkers.forEach((yr) => {
        const px = scales.x.getPixelForValue(yr);
        ctx.beginPath();
        ctx.moveTo(px, a.top);
        ctx.lineTo(px, a.bottom);
        ctx.stroke();
      });
      ctx.restore();
    },
  };
  const panelTitle = {
    id: "panelTitle",
    afterDraw(chart: any) {
      const { ctx, chartArea: a } = chart;
      ctx.save();
      ctx.font = `26px ${FONT}`;
      ctx.fillStyle = "#000000";
      ctx.textAlign = "center";
      ctx.textBaseline = "middle";
      ctx.fillText(p.title, (a.left + a.right) / 2, a.top - 16.5);
      ctx.restore();
    },
  };

  const gridColor = (ctx: any, majors: number[]) =>
    near(ctx.tick?.value, majors) ? "#FFFFFF" : "rgba(255,255,255,0.75)";
  const gridWidth = (ctx: any, majors: number[]) => (near(ctx.tick?.value, majors) ? 1.4 : 0.8);

  return new Chart(canvas, {
    type: "line",
    data: { datasets },
    plugins: [backdrop, refLevels, projectionWindow, panelTitle],
    options: {
      responsive: false,
      animation: false,
      devicePixelRatio: 1,
      events: [],
      layout: { padding: { top: p.area.t - p.box.y, left: 0, right: 0, bottom: 0 } },
      plugins: { legend: { display: false }, tooltip: { enabled: false }, title: { display: false } },
      scales: {
        x: {
          type: "linear",
          min: yearMin,
          max: yearMax,
          afterBuildTicks: (s: any) => { s.ticks = xAll.map((v) => ({ value: v })); },
          afterFit: (s: any) => { s.height = p.box.y + p.box.h - p.area.b; },
          border: { display: false },
          grid: {
            color: (c: any) => gridColor(c, yearMajor),
            lineWidth: (c: any) => gridWidth(c, yearMajor),
            tickLength: 9,
            tickWidth: 1.3,
            tickColor: (c: any) => (near(c.tick?.value, yearMajor) ? "#8A8A8A" : "rgba(0,0,0,0)"),
          },
          ticks: {
            autoSkip: false, maxRotation: 0, minRotation: 0, padding: 12,
            color: "#7F7F7F", font: tickFont,
            callback: (v: any) => (near(Number(v), yearMajor) ? String(v) : ""),
          },
          title: p.xTitle
            ? { display: true, text: p.xTitle, color: "#000000", font: titleFont, padding: { top: 0, bottom: 3 } }
            : { display: false },
        },
        y: {
          type: "linear",
          min: p.yMin,
          max: p.yMax,
          afterBuildTicks: (s: any) => { s.ticks = yAll.map((v) => ({ value: v })); },
          afterFit: (s: any) => { s.width = p.area.l - p.box.x; },
          border: { display: false },
          grid: {
            color: (c: any) => gridColor(c, p.yMajor),
            lineWidth: (c: any) => gridWidth(c, p.yMajor),
            tickLength: 9,
            tickWidth: 1.3,
            tickColor: (c: any) => {
              const v = c.tick?.value;
              if (!near(v, p.yMajor)) return "rgba(0,0,0,0)";
              return v === 0 ? "#000000" : "#8A8A8A";
            },
          },
          ticks: {
            autoSkip: false, padding: 9, color: "#7F7F7F", font: tickFont,
            callback: (v: any) => (near(Number(v), p.yMajor) ? Number(v).toFixed(p.yDigits) : ""),
          },
          title: {
            display: true, text: p.yTitle, color: "#000000", font: titleFont,
            padding: { top: p.yTitleX - p.box.x - 15.3, bottom: 0 },
          },
        },
      },
    } as any,
  });
}

function Panel({ spec }: { spec: PanelSpec }) {
  const ref = useRef<HTMLCanvasElement | null>(null);
  useEffect(() => {
    if (!ref.current) return;
    const chart = buildChart(ref.current, spec);
    return () => chart.destroy();
  }, [spec]);
  return (
    <canvas
      ref={ref}
      width={spec.box.w}
      height={spec.box.h}
      style={{ position: "absolute", left: spec.box.x, top: spec.box.y, width: spec.box.w, height: spec.box.h }}
    />
  );
}

export default function App() {
  return (
    <div
      style={{
        position: "absolute", left: 0, top: 0, width: 1091, height: 1477,
        overflow: "hidden", background: "#FFFFFF",
      }}
    >
      {panels.map((p) => (
        <Panel key={p.id} spec={p} />
      ))}
    </div>
  );
}
